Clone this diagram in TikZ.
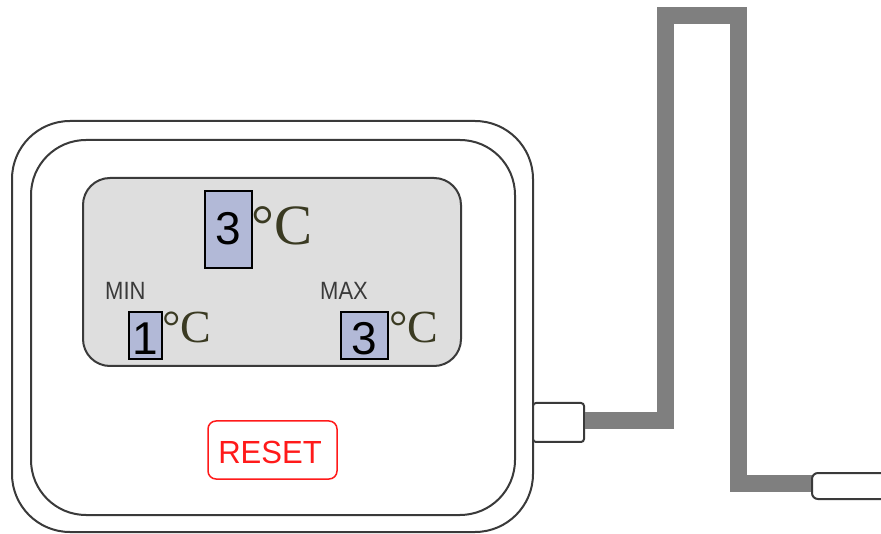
\documentclass[tikz,border=0pt]{standalone}
\usepackage{fontspec}
\setmainfont{Liberation Serif}
\newfontfamily\arialf{Liberation Sans}
\definecolor{linec}{HTML}{3A3A3A}
\definecolor{screenc}{HTML}{DEDEDE}
\definecolor{digitbox}{HTML}{B2B9D7}
\definecolor{degc}{HTML}{3A3A22}
\definecolor{cablec}{HTML}{7F7F7F}
\definecolor{resetc}{HTML}{FF1A1A}
\tikzset{
  outline/.style={draw=linec, line width=2pt},
  digitboxstyle/.style={draw=black, line width=2pt, fill=digitbox},
  digit/.style={font=\arialf\fontsize{46}{46}\selectfont, inner sep=0pt},
  bigdeg/.style={font=\fontsize{57}{57}\selectfont, text=degc, inner sep=0pt},
  smalldeg/.style={font=\fontsize{46}{46}\selectfont, text=degc, inner sep=0pt},
  lbl/.style={font=\arialf\fontsize{25}{25}\selectfont, text=linec, inner sep=0pt, xscale=0.88},
  cable/.style={draw=cablec, line width=17pt, line join=miter},
}
\begin{document}
\begin{tikzpicture}[x=1pt,y=-1pt]
\useasboundingbox[fill=white] (0,0) rectangle (881,534);
% body
\draw[outline, rounded corners=58pt] (12,121) rectangle (533,532);
\draw[outline, rounded corners=55pt] (31,140) rectangle (515,515);
% screen
\draw[outline, fill=screenc, rounded corners=27pt] (83,178) rectangle (461,366);
% top reading
\draw[digitboxstyle] (205,191) rectangle (252,268);
\node[digit, anchor=base] (topd) at (228.5,245) {3};
\node[bigdeg, anchor=base west] (topu) at (251,245) {°C};
% min / max
\node[lbl, anchor=base west] (minl) at (105,300) {MIN};
\node[lbl, anchor=base west] (maxl) at (320,300) {MAX};
\draw[digitboxstyle] (129,312) rectangle (162,359);
\node[digit, anchor=base] (mind) at (145.5,355) {1};
\node[smalldeg, anchor=base west] (minu) at (162,343) {°C};
\draw[digitboxstyle] (341,312) rectangle (388,359);
\node[digit, anchor=base] (maxd) at (364.5,355) {3};
\node[smalldeg, anchor=base west] (maxu) at (389,343) {°C};
% reset button
\draw[draw=resetc, line width=1.5pt, rounded corners=8pt] (208,421) rectangle (337,479);
\node[font=\arialf\fontsize{32}{32}\selectfont, text=resetc, inner sep=0pt, anchor=base, xscale=0.97] (reset) at (270,464) {RESET};
% plug
\node[draw=linec, line width=2pt, fill=white, rounded corners=3pt, minimum width=51pt, minimum height=39pt, inner sep=0pt] (plug) at (558.5,422.5) {};
% probe
\coordinate (probe) at (812,486);
\coordinate (c1) at (665,421);
\coordinate (c2) at (665,15.5);
\coordinate (c3) at (738.5,15.5);
\coordinate (c4) at (738.5,483.5);
\draw[cable] (plug.east |- c1) -- (c1) -- (c2) -- (c3) -- (c4) -- (probe |- c4);
\draw[draw=linec, line width=2pt, fill=white] (885,473) -- (818,473) arc[start angle=90, end angle=180, radius=6pt] -- (812,493) arc[start angle=180, end angle=270, radius=6pt] -- (885,499);
\end{tikzpicture}
\end{document}
